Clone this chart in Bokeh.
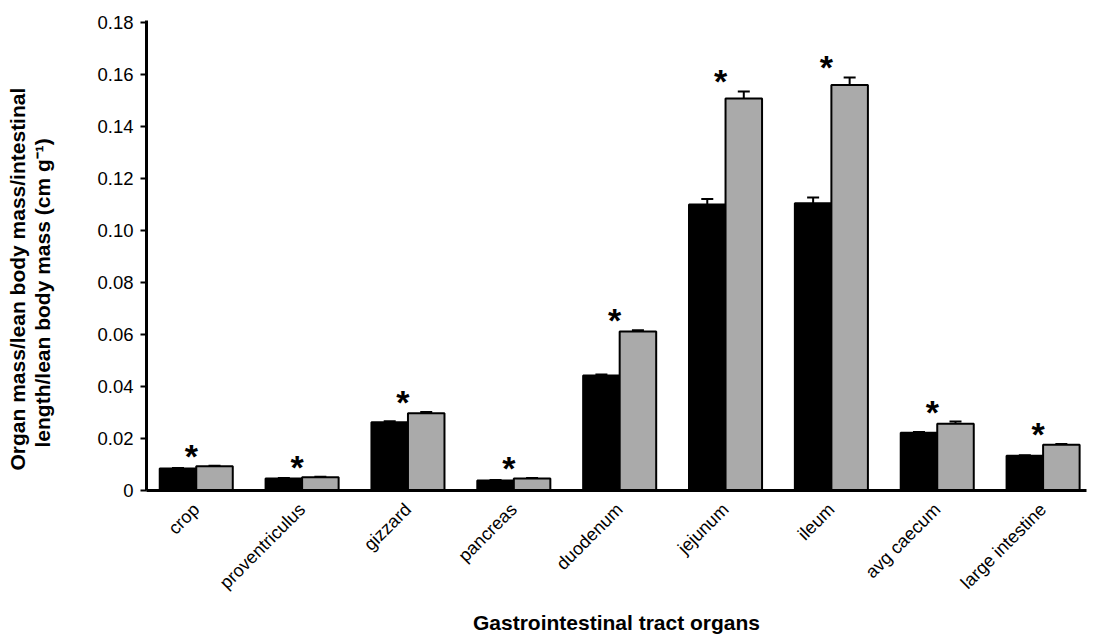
import math
from bokeh.plotting import figure
from bokeh.models import (ColumnDataSource, Range1d, FixedTicker, Whisker, TeeHead,
                          NumeralTickFormatter, Title)
from bokeh.transform import dodge
from bokeh.core.properties import value
from bokeh.embed import file_html
from bokeh.resources import INLINE

categories = ["crop", "proventriculus", "gizzard", "pancreas", "duodenum",
              "jejunum", "ileum", "avg caecum", "large intestine"]
group_a = [0.0085, 0.0046, 0.0263, 0.0038, 0.0442, 0.1100, 0.1105, 0.0222, 0.0134]
group_b = [0.0093, 0.0051, 0.0297, 0.0046, 0.0612, 0.1508, 0.1560, 0.0257, 0.0176]
err_a = [0.0002, 0.0002, 0.0003, 0.0002, 0.0004, 0.0021, 0.0022, 0.0003, 0.0002]
err_b = [0.0002, 0.0002, 0.0005, 0.0002, 0.0004, 0.0027, 0.0029, 0.0008, 0.0003]
significant = [True] * 9
y_ticks = [0, 0.02, 0.04, 0.06, 0.08, 0.10, 0.12, 0.14, 0.16, 0.18]
y_title_lines = ["Organ mass/lean body mass/intestinal",
                 "length/lean body mass (cm g\u207b\u00b9)"]
x_title = "Gastrointestinal tract organs"

FONT = "Liberation Sans"
xs = list(range(len(categories)))
W = 0.345

src = ColumnDataSource(dict(
    x=xs, a=group_a, b=group_b,
    a_hi=[v + e for v, e in zip(group_a, err_a)],
    b_hi=[v + e for v, e in zip(group_b, err_b)],
))

p = figure(width=1096, height=639, output_backend="svg", toolbar_location=None,
           x_range=Range1d(-0.47, 8.41), y_range=Range1d(0, 0.1808),
           frame_width=940, frame_height=470,
           min_border_left=146, min_border_right=10, min_border_top=20, min_border_bottom=149)
p.outline_line_color = None
p.grid.grid_line_color = None
p.background_fill_color = "white"

p.vbar(x=dodge("x", -W / 2, range=p.x_range), top="a", width=W, bottom=0, source=src,
       fill_color="black", line_color="black", line_width=2)
p.vbar(x=dodge("x", W / 2, range=p.x_range), top="b", width=W, bottom=0, source=src,
       fill_color="#aaaaaa", line_color="black", line_width=2)

for col_lo, col_hi, off in (("a", "a_hi", -W / 2), ("b", "b_hi", W / 2)):
    wk = Whisker(base=dodge("x", off, range=p.x_range), lower=col_lo, upper=col_hi, source=src,
                 dimension="height", line_color="black", line_width=2,
                 lower_head=None, upper_head=TeeHead(size=12, line_color="black", line_width=2))
    p.add_layout(wk)

star_x = [x for x, s in zip(xs, significant) if s]
star_y = [max(a, b) for a, b, s in zip(src.data["a_hi"], src.data["b_hi"], significant) if s]
star_src = ColumnDataSource(dict(x=star_x, y=star_y, t=["*"] * len(star_x)))
p.text(x="x", y="y", text="t", source=star_src, text_align="center",
       text_baseline="alphabetic", x_offset=-5, y_offset=-10,
       text_font=value(FONT), text_font_size="34px", text_font_style="bold",
       text_color="black")

# axes
p.xaxis.ticker = FixedTicker(ticks=xs)
p.xaxis.major_label_overrides = {i: c for i, c in enumerate(categories)}
p.xaxis.major_label_orientation = math.pi / 4
p.xaxis.major_tick_line_color = None
p.xaxis.minor_tick_line_color = None
p.xaxis.axis_line_width = 3
p.xaxis.axis_line_color = "black"
p.xaxis.major_label_text_font = FONT
p.xaxis.major_label_text_font_size = "18px"
p.xaxis.major_label_text_color = "black"
p.xaxis.major_label_standoff = 10
p.xaxis.axis_label = x_title
p.xaxis.axis_label_text_font = FONT
p.xaxis.axis_label_text_font_size = "21px"
p.xaxis.axis_label_text_font_style = "bold"
p.xaxis.axis_label_text_color = "black"
p.xaxis.axis_label_standoff = 8

p.yaxis.ticker = FixedTicker(ticks=y_ticks)
p.yaxis.formatter = NumeralTickFormatter(format="0.00")
p.yaxis.major_label_overrides = {0: "0"}
p.yaxis.minor_tick_line_color = None
p.yaxis.major_tick_line_width = 2
p.yaxis.major_tick_out = 6
p.yaxis.major_tick_in = 0
p.yaxis.axis_line_width = 3
p.yaxis.axis_line_color = "black"
p.yaxis.major_label_text_font = FONT
p.yaxis.major_label_text_font_size = "18.5px"
p.yaxis.major_label_text_color = "black"
p.yaxis.major_label_standoff = 7

# spacer between tick labels and the y title
spacer = Title(text=" ", standoff=38, text_font_size="1px")
p.add_layout(spacer, "left")
# two-line y title as two side titles (inner line added first), started from the bottom
for txt, sof, off in ((y_title_lines[1], 0, 43), (y_title_lines[0], 0, 20)):
    p.add_layout(Title(text=txt, align="left", offset=off, standoff=sof,
                       text_font=FONT, text_font_size="21px", text_font_style="bold",
                       text_color="black"), "left")

open("out.html", "w").write(file_html(p, INLINE))
